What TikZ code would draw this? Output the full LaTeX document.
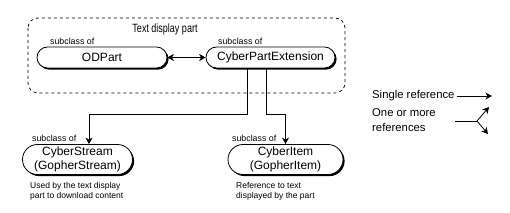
\documentclass[tikz,border=0pt]{standalone}
\usepackage{fontspec}
\setmainfont{Liberation Sans}
\newfontfamily\narrowfont{Liberation Sans}[FakeStretch=0.75]
\usetikzlibrary{shapes.misc,shadows,arrows.meta}
\tikzset{
  pill/.style={rounded rectangle, draw=black, line width=0.8pt, fill=white,
    inner sep=0pt, align=center, font=\fontsize{12}{14}\selectfont,
    drop shadow={fill=black, opacity=1, shadow xshift=1.6pt, shadow yshift=-1.6pt}},
  sublabel/.style={anchor=west, inner sep=0pt, font=\fontsize{8.8}{10}\selectfont},
  caption/.style={anchor=north west, inner sep=0pt, align=left, font=\fontsize{8.5}{10}\selectfont},
  legtext/.style={anchor=west, inner sep=0pt, align=left, font=\fontsize{11.3}{15}\selectfont},
  conn/.style={line width=0.8pt},
  tip/.style={-{Stealth[length=6.5pt,width=7pt,inset=2pt]}},
  tips/.style={{Stealth[length=6.5pt,width=7pt,inset=2pt]}-{Stealth[length=6.5pt,width=7pt,inset=2pt]}},
}
\begin{document}
\begin{tikzpicture}[x=1pt,y=-1pt]
\useasboundingbox (0,0) rectangle (510,213);
% group box
\draw[dashed, line width=0.7pt, rounded corners=10pt] (28,18) rectangle (345,93);
\node[inner sep=0pt, font=\narrowfont\fontsize{12}{14}\selectfont] (title) at (165,29) {Text display part};
% nodes
\node[pill, minimum width=130pt, minimum height=21pt] (odpart) at (102,57.5) {ODPart};
\node[pill, minimum width=129pt, minimum height=21pt] (cpe) at (270.5,57.5) {CyberPartExtension};
\node[pill, minimum width=110pt, minimum height=30pt] (cstream) at (77.5,159.5) {CyberStream\\(GopherStream)};
\node[pill, minimum width=115pt, minimum height=30pt] (citem) at (285.5,159.5) {CyberItem\\(GopherItem)};
% subclass labels
\node[sublabel] (s1) at (50,41) {subclass of};
\node[sublabel] (s2) at (218,41) {subclass of};
\node[sublabel] (s3) at (32,138) {subclass of};
\node[sublabel] (s4) at (232,138) {subclass of};
% captions
\node[caption] (c1) at (30,182) {Used by the text display\\part to download content};
\node[caption] (c2) at (236,182) {Reference to text\\displayed by the part};
% connectors
\draw[conn, tips] (odpart.east) -- (cpe.west);
\coordinate (j1) at (247,114);
\coordinate (a1) at (89,114);
\coordinate (j2) at (266.5,114);
\coordinate (a2) at (285.5,114);
\draw[conn, tip] (j1 |- cpe.south) -- (j1) -- (a1) -- (a1 |- cstream.north);
\draw[conn, tip] (j2 |- cpe.south) -- (j2) -- (a2) -- (a2 |- citem.north);
% legend
\node[legtext] (l1) at (372,96) {Single reference};
\node[legtext] (l2) at (372,120.5) {One or more\\references};
\coordinate (ls) at (457,96);
\coordinate (le) at (492,96);
\draw[conn, tip] (ls) -- (le);
\coordinate (fs) at (455,121);
\coordinate (fj) at (477,121);
\coordinate (fu) at (489,107);
\coordinate (fd) at (488,134);
\draw[conn] (fs) -- (fj);
\draw[conn, tip] (fj) -- (fu);
\draw[conn, tip] (fj) -- (fd);
\end{tikzpicture}
\end{document}
